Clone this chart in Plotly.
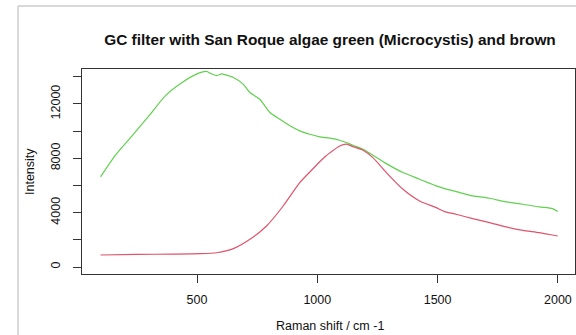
import plotly.graph_objects as go

# Raman shift (cm-1) sample positions
green_x = [99, 161, 230, 300, 368, 438, 507, 541, 554, 582, 602, 608, 651, 692, 720, 761,
           803, 844, 886, 927, 969, 1010, 1052, 1093, 1121, 1148, 1190, 1231, 1287, 1356,
           1425, 1494, 1529, 1577, 1646, 1716, 1785, 1854, 1923, 1978, 1999]
green_y = [6630, 8230, 9650, 11120, 12600, 13580, 14270, 14390, 14270, 14090, 14220, 14190,
           13950, 13460, 12840, 12350, 11370, 10880, 10390, 10020, 9770, 9580, 9480, 9330,
           9160, 8960, 8670, 8230, 7610, 6950, 6460, 5970, 5770, 5550, 5230, 5060, 4790,
           4620, 4420, 4300, 4080]

brown_x = [99, 250, 400, 512, 582, 651, 720, 789, 858, 927, 983, 1010, 1031, 1052, 1093,
           1121, 1148, 1190, 1231, 1287, 1356, 1425, 1494, 1529, 1577, 1646, 1716, 1785,
           1854, 1923, 1999]
brown_y = [884, 930, 950, 980, 1050, 1350, 2040, 3020, 4490, 6210, 7250, 7750, 8100, 8400,
           8910, 9040, 8860, 8590, 8050, 6950, 5720, 4860, 4370, 4080, 3880, 3560, 3270,
           2950, 2700, 2530, 2280]

x_ticks = [500, 1000, 1500, 2000]
y_ticks = [0, 2000, 4000, 6000, 8000, 10000, 12000, 14000]
y_ticktext = ["0", "", "4000", "", "8000", "", "12000", ""]

FONT = "Liberation Sans, Arial, sans-serif"

fig = go.Figure()
fig.add_trace(go.Scatter(x=green_x, y=green_y, mode="lines",
                         line=dict(color="#61D04F", width=1.2, shape="spline", smoothing=0.6),
                         showlegend=False))
fig.add_trace(go.Scatter(x=brown_x, y=brown_y, mode="lines",
                         line=dict(color="#DF536B", width=1.2, shape="spline", smoothing=0.6),
                         showlegend=False))

W, H = 576, 335
L, R, T, B = 82, 1, 69, 61
pw, ph = W - L - R, H - T - B

def px2paper_x(px):
    return (px - L) / pw

def px2paper_y(py):
    return (H - B - py) / ph

fig.update_layout(
    width=W, height=H,
    margin=dict(l=L, r=R, t=T, b=B, pad=0, autoexpand=False),
    paper_bgcolor="white", plot_bgcolor="white",
    font=dict(family=FONT, size=12, color="#111111"),
    title=dict(text="<b>GC filter with San Roque algae green (Microcystis) and brown</b>",
               x=330 / W, xanchor="center", xref="container",
               y=1 - 40 / H, yanchor="middle", yref="container",
               font=dict(family=FONT, size=15.4, color="#111111")),
    xaxis=dict(range=[22, 2071], tickvals=x_ticks, ticks="outside", ticklen=8,
               tickcolor="#333333", tickwidth=1, showgrid=False, zeroline=False,
               showline=True, linecolor="#333333", linewidth=1, mirror=True,
               automargin=False,
               ticklabelstandoff=6, tickfont=dict(size=12.5)),
    yaxis=dict(range=[-515, 14573], tickvals=y_ticks, ticktext=y_ticktext,
               ticks="outside", ticklen=8, tickcolor="#333333", tickwidth=1,
               tickangle=-90, showgrid=False, zeroline=False,
               showline=True, linecolor="#333333", linewidth=1, mirror=True,
               automargin=False,
               ticklabelstandoff=8, tickfont=dict(size=12.5)),
    annotations=[
        dict(text="Intensity", xref="paper", yref="paper",
             x=px2paper_x(30), y=px2paper_y(172), textangle=-90,
             showarrow=False, xanchor="center", yanchor="middle",
             font=dict(size=12.5)),
        dict(text="Raman shift / cm -1", xref="paper", yref="paper",
             x=px2paper_x(330), y=px2paper_y(326),
             showarrow=False, xanchor="center", yanchor="middle",
             font=dict(size=12.5)),
    ],
    shapes=[
        dict(type="line", xref="paper", yref="paper",
             x0=px2paper_x(18), x1=px2paper_x(18), y0=px2paper_y(6), y1=px2paper_y(340),
             line=dict(color="#cccccc", width=1.5)),
        dict(type="line", xref="paper", yref="paper",
             x0=px2paper_x(18), x1=px2paper_x(580), y0=px2paper_y(6), y1=px2paper_y(6),
             line=dict(color="#cccccc", width=1.5)),
    ],
)

fig.write_html("out.html", config={"displayModeBar": False},
               post_script="document.body.style.margin='0';document.body.style.overflow='hidden';")
